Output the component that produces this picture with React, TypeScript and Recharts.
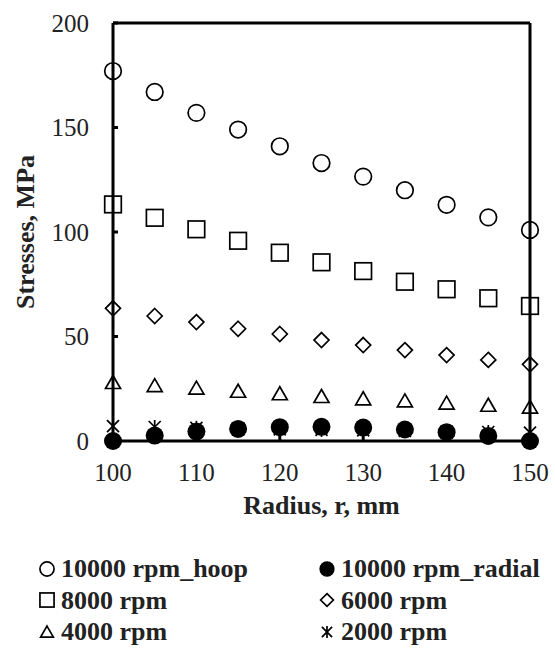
import React from 'react';
import {
  ScatterChart, Scatter, XAxis, YAxis, ReferenceLine
} from 'recharts';

// radius positions, mm
const radius = [100, 105, 110, 115, 120, 125, 130, 135, 140, 145, 150];

// stresses, MPa
const hoop10000 = [177, 167, 157, 149, 141, 133, 126.5, 120, 113, 107, 101];
const radial10000 = [0, 2.6, 4.5, 5.8, 6.6, 6.8, 6.4, 5.5, 4.2, 2.4, 0];
const rpm8000 = [113.2, 106.8, 101.3, 95.8, 90.1, 85.5, 81.3, 76.2, 72.6, 68.3, 64.6];
const rpm6000 = [63.5, 59.8, 56.9, 53.7, 51.2, 48.3, 45.9, 43.5, 41.1, 38.8, 36.7];
const rpm4000 = [28, 26.5, 25.3, 23.8, 22.6, 21.3, 20.2, 19.2, 18.1, 17.1, 16.2];
const rpm2000 = [7.1, 6.7, 6.3, 6.0, 5.6, 5.3, 5.1, 4.8, 4.5, 4.3, 4.0];

const xTicks = [100, 110, 120, 130, 140, 150];
const yTicks = [0, 50, 100, 150, 200];

type Kind = 'circle' | 'dot' | 'square' | 'diamond' | 'triangle' | 'star';

const series: { name: string; kind: Kind; values: number[] }[] = [
  { name: '10000 rpm_hoop', kind: 'circle', values: hoop10000 },
  { name: '10000 rpm_radial', kind: 'dot', values: radial10000 },
  { name: '8000 rpm', kind: 'square', values: rpm8000 },
  { name: '6000 rpm', kind: 'diamond', values: rpm6000 },
  { name: '4000 rpm', kind: 'triangle', values: rpm4000 },
  { name: '2000 rpm', kind: 'star', values: rpm2000 },
];

const FONT = "'Liberation Serif', 'DejaVu Serif', serif";
const INK = '#000';

// one marker, drawn around (cx, cy); s scales it for the legend
const Marker = ({ kind, cx, cy, s = 1 }: { kind: Kind; cx: number; cy: number; s?: number }) => {
  const sw = 1.7;
  switch (kind) {
    case 'circle':
      return <circle cx={cx} cy={cy} r={8.3 * s} fill="none" stroke={INK} strokeWidth={sw} />;
    case 'dot':
      return <circle cx={cx} cy={cy} r={9 * s} fill={INK} />;
    case 'square': {
      const h = 8.3 * s;
      return <rect x={cx - h} y={cy - h} width={2 * h} height={2 * h} fill="none" stroke={INK} strokeWidth={sw} />;
    }
    case 'diamond': {
      const h = 7.5 * s;
      return (
        <polygon
          points={`${cx},${cy - h} ${cx + h},${cy} ${cx},${cy + h} ${cx - h},${cy}`}
          fill="none" stroke={INK} strokeWidth={sw}
        />
      );
    }
    case 'triangle': {
      const w = 7.5 * s;
      return (
        <polygon
          points={`${cx},${cy - 7 * s} ${cx + w},${cy + 6 * s} ${cx - w},${cy + 6 * s}`}
          fill="none" stroke={INK} strokeWidth={sw}
        />
      );
    }
    case 'star': {
      const h = 7 * s;
      const d = 6 * s;
      return (
        <g stroke={INK} strokeWidth={sw}>
          <line x1={cx} y1={cy - h} x2={cx} y2={cy + h} />
          <line x1={cx - d} y1={cy - d} x2={cx + d} y2={cy + d} />
          <line x1={cx - d} y1={cy + d} x2={cx + d} y2={cy - d} />
        </g>
      );
    }
  }
  return null;
};

const LegendItem = ({ kind, name }: { kind: Kind; name: string }) => (
  <div style={{ display: 'flex', alignItems: 'center', height: 31.5 }}>
    <svg width={18} height={18} style={{ marginRight: 5 }}>
      <Marker kind={kind} cx={9} cy={9} s={0.85} />
    </svg>
    <span>{name}</span>
  </div>
);

export default function App() {
  const tickStyle = { fontSize: 25, fontFamily: FONT, fill: '#222' };
  const titleStyle = { fontSize: 26, fontFamily: FONT, fontWeight: 'bold' as const, fill: '#222' };

  return (
    <div style={{ position: 'absolute', left: 0, top: 0, width: 555, height: 649, background: '#fff', fontFamily: FONT }}>
      <ScatterChart width={555} height={560} margin={{ top: 23, right: 25, left: 0, bottom: 0 }}>
        <XAxis
          type="number"
          dataKey="r"
          domain={[100, 150]}
          ticks={xTicks}
          height={119}
          tick={tickStyle}
          tickSize={-5}
          tickMargin={27}
          axisLine={{ stroke: INK, strokeWidth: 3 }}
          tickLine={{ stroke: INK, strokeWidth: 3 }}
          label={{ value: 'Radius, r, mm', position: 'insideBottom', offset: 46, style: titleStyle }}
        />
        <YAxis
          type="number"
          dataKey="v"
          domain={[0, 200]}
          ticks={yTicks}
          width={113}
          tick={tickStyle}
          tickSize={-5}
          tickMargin={29}
          axisLine={{ stroke: INK, strokeWidth: 3 }}
          tickLine={{ stroke: INK, strokeWidth: 3 }}
          label={{
            value: 'Stresses, MPa', angle: -90, position: 'insideLeft', offset: 25,
            style: { ...titleStyle, textAnchor: 'middle' },
          }}
        />
        {/* closes the box on top and right, like the original frame */}
        <ReferenceLine y={200} stroke={INK} strokeWidth={3} />
        <ReferenceLine x={150} stroke={INK} strokeWidth={3} />
        {series.map((s) => (
          <Scatter
            key={s.name}
            name={s.name}
            data={radius.map((r, i) => ({ r, v: s.values[i] }))}
            dataKey="v"
            isAnimationActive={false}
            shape={(p: any) => <Marker kind={s.kind} cx={p.cx} cy={p.cy} />}
          />
        ))}
      </ScatterChart>

      <div
        style={{
          position: 'absolute', left: 38, top: 553, width: 517,
          display: 'grid', gridTemplateColumns: '280px 237px',
          fontWeight: 'bold', fontSize: 26, color: '#222', lineHeight: '31.5px',
        }}
      >
        {series.map((s) => (
          <LegendItem key={s.name} kind={s.kind} name={s.name} />
        ))}
      </div>
    </div>
  );
}
